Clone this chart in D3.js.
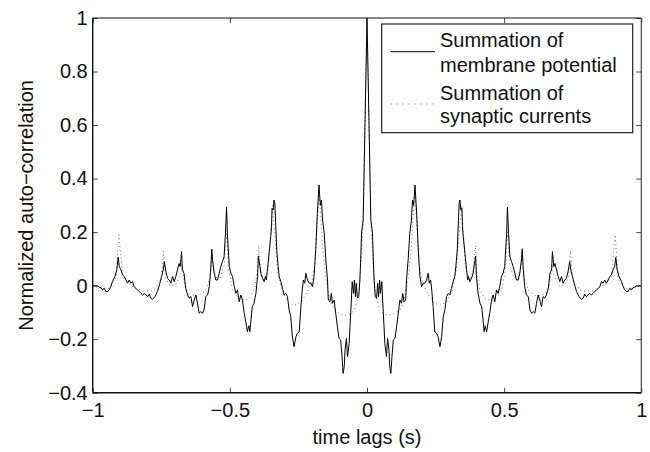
<!DOCTYPE html>
<html><head><meta charset="utf-8">
<script src="https://cdn.jsdelivr.net/npm/d3@7/dist/d3.min.js"></script>
<style>
html,body{margin:0;padding:0;background:#fff;}
svg{display:block;font-family:"Liberation Sans",Arial,Helvetica,sans-serif;}
</style></head>
<body><svg id="chart" width="650" height="452"></svg>
<script>
// ---- data ----
const xTicks = [-1, -0.5, 0, 0.5, 1];
const xTickLabels = ["\u22121", "\u22120.5", "0", "0.5", "1"];
const yTicks = [-0.4, -0.2, 0, 0.2, 0.4, 0.6, 0.8, 1];
const yTickLabels = ["\u22120.4", "\u22120.2", "0", "0.2", "0.4", "0.6", "0.8", "1"];
const seriesNames = ["Summation of\nmembrane potential", "Summation of\nsynaptic currents"];
const xLabel = "time lags (s)";
const yLabel = "Normalized auto\u2212correlation";

const membraneLag = [
-1.000,-0.982,-0.976,-0.970,-0.964,-0.958,-0.952,-0.946,-0.940,-0.934,-0.928,-0.919,-0.912,-0.907,-0.903,-0.897,-0.891,-0.885,-0.879,-0.873,
-0.867,-0.861,-0.855,-0.849,-0.837,-0.830,-0.824,-0.818,-0.812,-0.806,-0.800,-0.794,-0.788,-0.782,-0.773,-0.764,-0.755,-0.749,-0.743,-0.739,
-0.733,-0.727,-0.721,-0.715,-0.709,-0.703,-0.697,-0.691,-0.685,-0.681,-0.676,-0.673,-0.667,-0.661,-0.654,-0.648,-0.642,-0.636,-0.630,-0.624,
-0.618,-0.612,-0.606,-0.600,-0.594,-0.588,-0.581,-0.575,-0.569,-0.566,-0.563,-0.557,-0.551,-0.545,-0.539,-0.533,-0.527,-0.521,-0.516,-0.512,
-0.509,-0.502,-0.496,-0.490,-0.484,-0.478,-0.472,-0.466,-0.460,-0.454,-0.448,-0.442,-0.436,-0.431,-0.427,-0.423,-0.418,-0.412,-0.405,-0.399,
-0.396,-0.391,-0.387,-0.381,-0.375,-0.370,-0.367,-0.363,-0.357,-0.351,-0.348,-0.346,-0.342,-0.339,-0.336,-0.332,-0.329,-0.324,-0.320,-0.314,
-0.308,-0.302,-0.296,-0.290,-0.284,-0.278,-0.272,-0.266,-0.259,-0.254,-0.247,-0.241,-0.236,-0.232,-0.227,-0.223,-0.217,-0.211,-0.205,-0.199,
-0.193,-0.187,-0.181,-0.175,-0.170,-0.166,-0.162,-0.156,-0.150,-0.144,-0.141,-0.135,-0.130,-0.126,-0.120,-0.114,-0.108,-0.102,-0.096,-0.091,
-0.087,-0.083,-0.080,-0.075,-0.071,-0.065,-0.062,-0.057,-0.054,-0.049,-0.046,-0.042,-0.039,-0.035,-0.030,-0.026,-0.023,-0.020,-0.014,0.000,
0.014,0.020,0.023,0.026,0.030,0.035,0.039,0.042,0.046,0.049,0.054,0.057,0.062,0.065,0.071,0.075,0.080,0.083,0.087,0.091,
0.096,0.102,0.108,0.114,0.120,0.126,0.130,0.135,0.141,0.144,0.150,0.156,0.162,0.166,0.170,0.175,0.181,0.187,0.193,0.199,
0.205,0.211,0.217,0.223,0.227,0.232,0.236,0.241,0.247,0.254,0.259,0.266,0.272,0.278,0.284,0.290,0.296,0.302,0.308,0.314,
0.320,0.324,0.329,0.332,0.336,0.339,0.342,0.346,0.348,0.351,0.357,0.363,0.367,0.370,0.375,0.381,0.387,0.391,0.396,0.399,
0.405,0.412,0.418,0.423,0.427,0.431,0.436,0.442,0.448,0.454,0.460,0.466,0.472,0.478,0.484,0.490,0.496,0.502,0.509,0.512,
0.516,0.521,0.527,0.533,0.539,0.545,0.551,0.557,0.563,0.566,0.569,0.575,0.581,0.588,0.594,0.600,0.606,0.612,0.618,0.624,
0.630,0.636,0.642,0.648,0.654,0.661,0.667,0.673,0.676,0.681,0.685,0.691,0.697,0.703,0.709,0.715,0.721,0.727,0.733,0.739,
0.743,0.749,0.755,0.764,0.773,0.782,0.788,0.794,0.800,0.806,0.812,0.818,0.824,0.830,0.837,0.849,0.855,0.861,0.867,0.873,
0.879,0.885,0.891,0.897,0.903,0.907,0.912,0.919,0.928,0.934,0.940,0.946,0.952,0.958,0.964,0.970,0.976,0.982,1.000];

const membraneVal = [
0.000,-0.001,-0.006,-0.007,-0.016,-0.010,-0.022,-0.022,-0.016,-0.004,0.015,0.034,0.059,0.106,0.071,0.059,0.040,0.034,0.021,0.009,
0.021,0.009,0.015,-0.004,-0.016,-0.022,-0.029,-0.035,-0.029,-0.035,-0.041,-0.032,-0.047,-0.051,-0.041,-0.022,0.009,0.034,0.059,0.090,
0.052,0.027,0.021,0.009,0.034,0.015,0.034,0.059,0.083,0.071,0.127,0.059,0.046,-0.010,-0.035,-0.047,-0.041,-0.078,-0.054,-0.035,
-0.066,-0.103,-0.097,-0.103,-0.091,-0.041,-0.035,-0.004,0.071,0.136,0.096,0.046,0.021,0.021,0.046,0.071,0.090,0.108,0.196,0.293,
0.196,0.071,0.046,0.034,-0.004,-0.029,-0.016,-0.060,-0.035,-0.054,-0.100,-0.135,-0.172,-0.150,-0.172,-0.128,-0.078,-0.066,-0.029,0.034,
0.110,0.077,0.046,0.028,0.015,0.034,0.021,0.059,0.121,0.183,0.220,0.289,0.283,0.320,0.308,0.208,0.133,0.071,0.034,0.015,
-0.010,-0.035,-0.029,-0.041,-0.091,-0.116,-0.191,-0.228,-0.191,-0.178,-0.172,-0.078,-0.016,0.021,0.009,0.046,0.021,0.009,0.010,-0.004,
0.034,0.133,0.271,0.376,0.300,0.320,0.245,0.196,0.096,0.021,-0.054,-0.060,-0.029,-0.066,-0.054,-0.103,-0.153,-0.197,-0.203,-0.265,
-0.328,-0.303,-0.240,-0.197,-0.265,-0.216,-0.153,-0.054,0.015,-0.029,0.021,-0.041,0.009,-0.047,-0.041,0.021,0.096,0.196,0.245,1.000,
0.245,0.196,0.096,0.021,-0.041,-0.047,0.009,-0.041,0.021,-0.029,0.015,-0.054,-0.153,-0.216,-0.265,-0.197,-0.240,-0.303,-0.328,-0.265,
-0.203,-0.197,-0.153,-0.103,-0.054,-0.066,-0.029,-0.060,-0.054,0.021,0.096,0.196,0.245,0.320,0.300,0.376,0.271,0.133,0.034,-0.004,
0.010,0.009,0.021,0.046,0.009,0.021,-0.016,-0.078,-0.172,-0.178,-0.191,-0.228,-0.191,-0.116,-0.091,-0.041,-0.029,-0.035,-0.010,0.015,
0.034,0.071,0.133,0.208,0.308,0.320,0.283,0.289,0.220,0.183,0.121,0.059,0.021,0.034,0.015,0.028,0.046,0.077,0.110,0.034,
-0.029,-0.066,-0.078,-0.128,-0.172,-0.150,-0.172,-0.135,-0.100,-0.054,-0.035,-0.060,-0.016,-0.029,-0.004,0.034,0.046,0.071,0.196,0.293,
0.196,0.108,0.090,0.071,0.046,0.021,0.021,0.046,0.096,0.136,0.071,-0.004,-0.035,-0.041,-0.091,-0.103,-0.097,-0.103,-0.066,-0.035,
-0.054,-0.078,-0.041,-0.047,-0.035,-0.010,0.046,0.059,0.127,0.071,0.083,0.059,0.034,0.015,0.034,0.009,0.021,0.027,0.052,0.090,
0.059,0.034,0.009,-0.022,-0.041,-0.051,-0.047,-0.032,-0.041,-0.035,-0.029,-0.035,-0.029,-0.022,-0.016,-0.004,0.015,0.009,0.021,0.009,
0.021,0.034,0.040,0.059,0.071,0.106,0.059,0.034,0.015,-0.004,-0.016,-0.022,-0.022,-0.010,-0.016,-0.007,-0.006,-0.001,0.000];

const synapticLag = [
-1.000,-0.970,-0.940,-0.915,-0.905,-0.890,-0.860,-0.820,-0.780,-0.750,-0.742,-0.735,-0.720,-0.700,-0.680,-0.674,-0.665,-0.650,-0.620,-0.590,
-0.572,-0.566,-0.560,-0.550,-0.535,-0.520,-0.512,-0.505,-0.490,-0.460,-0.430,-0.410,-0.400,-0.395,-0.388,-0.375,-0.360,-0.352,-0.345,-0.335,
-0.325,-0.310,-0.290,-0.265,-0.240,-0.215,-0.200,-0.190,-0.182,-0.175,-0.168,-0.160,-0.150,-0.135,-0.120,-0.100,-0.080,-0.060,-0.045,-0.035,
-0.028,-0.022,-0.018,-0.014,0.000,
0.014,0.018,0.022,0.028,0.035,0.045,0.060,0.080,0.100,0.120,0.135,0.150,0.160,0.168,0.175,0.182,0.190,0.200,0.215,0.240,
0.265,0.290,0.310,0.325,0.335,0.345,0.352,0.360,0.375,0.388,0.395,0.400,0.410,0.430,0.460,0.490,0.505,0.512,0.520,0.535,
0.550,0.560,0.566,0.572,0.590,0.620,0.650,0.665,0.674,0.680,0.700,0.720,0.735,0.742,0.750,0.780,0.820,0.860,0.890,0.905,
0.915,0.940,0.970,1.000];

const synapticVal = [
0.000,-0.010,-0.010,0.030,0.190,0.030,0.000,-0.020,-0.020,0.020,0.130,0.030,0.000,0.000,0.040,0.080,0.000,-0.030,-0.040,-0.020,
0.030,0.140,0.060,0.030,0.030,0.080,0.200,0.060,-0.020,-0.055,-0.050,-0.010,0.050,0.150,0.060,0.020,0.060,0.180,0.300,0.180,
0.050,-0.020,-0.060,-0.075,-0.060,-0.020,0.020,0.080,0.220,0.350,0.250,0.120,0.020,-0.050,-0.090,-0.105,-0.110,-0.105,-0.090,-0.050,
0.000,0.080,0.150,0.240,1.000,
0.240,0.150,0.080,0.000,-0.050,-0.090,-0.105,-0.110,-0.105,-0.090,-0.050,0.020,0.120,0.250,0.350,0.220,0.080,0.020,-0.020,-0.060,
-0.075,-0.060,-0.020,0.050,0.180,0.300,0.180,0.060,0.020,0.060,0.150,0.050,-0.010,-0.050,-0.055,-0.020,0.060,0.200,0.080,0.030,
0.030,0.060,0.140,0.030,-0.020,-0.040,-0.030,0.000,0.080,0.040,0.000,0.000,0.030,0.130,0.020,-0.020,-0.020,0.000,0.030,0.190,
0.030,-0.010,-0.010,0.000];

// ---- layout ----
const plotL = 92.7, plotR = 641.3, plotT = 18, plotB = 392.7;
const svg = d3.select("#chart");
const x = d3.scaleLinear().domain([-1, 1]).range([plotL, plotR]);
const y = d3.scaleLinear().domain([-0.4, 1]).range([plotB, plotT]);
const FS = 20;

svg.append("defs").append("clipPath").attr("id","clip")
  .append("rect").attr("x", plotL).attr("y", plotT).attr("width", plotR-plotL).attr("height", plotB-plotT);

const line = d3.line().x(d => x(d[0])).y(d => y(d[1]));
const synData = synapticLag.map((l,i) => [l, synapticVal[i]]);
const memData = membraneLag.map((l,i) => [l, membraneVal[i]]);

const g = svg.append("g").attr("clip-path","url(#clip)");
g.append("path").datum(synData).attr("d", line)
  .attr("fill","none").attr("stroke","#777").attr("stroke-width",1)
  .attr("stroke-dasharray","1,3");
g.append("path").datum(memData).attr("d", line)
  .attr("fill","none").attr("stroke","#000").attr("stroke-width",1);

// axes (ticks inward, all 4 sides)
const fmtX = d => xTickLabels[xTicks.indexOf(d)];
const fmtY = d => yTickLabels[yTicks.indexOf(d)];
function styleAxis(sel){
  sel.select(".domain").remove();
  sel.selectAll(".tick line").attr("stroke","#444").attr("stroke-width",1);
  sel.selectAll("text").attr("fill","#111").style("font-size", FS+"px")
     .style("font-family",'"Liberation Sans",Arial,Helvetica,sans-serif');
}
svg.append("g").attr("transform",`translate(0,${plotB})`)
  .call(d3.axisBottom(x).tickValues(xTicks).tickFormat(fmtX).tickSizeInner(-5).tickSizeOuter(0).tickPadding(10))
  .call(styleAxis);
svg.append("g").attr("transform",`translate(0,${plotT})`)
  .call(d3.axisTop(x).tickValues(xTicks).tickFormat("").tickSizeInner(-5).tickSizeOuter(0))
  .call(styleAxis);
svg.append("g").attr("transform",`translate(${plotL},0)`)
  .call(d3.axisLeft(y).tickValues(yTicks).tickFormat(fmtY).tickSizeInner(-5).tickSizeOuter(0).tickPadding(5))
  .call(styleAxis);
svg.append("g").attr("transform",`translate(${plotR},0)`)
  .call(d3.axisRight(y).tickValues(yTicks).tickFormat("").tickSizeInner(-5).tickSizeOuter(0))
  .call(styleAxis);

// frame
svg.append("line").attr("x1",plotL).attr("x2",plotR).attr("y1",plotT).attr("y2",plotT).attr("stroke","#111").attr("stroke-width",1.2);
svg.append("line").attr("x1",plotL).attr("x2",plotR).attr("y1",plotB).attr("y2",plotB).attr("stroke","#111").attr("stroke-width",1.6);
svg.append("line").attr("x1",plotL).attr("x2",plotL).attr("y1",plotT).attr("y2",plotB).attr("stroke","#111").attr("stroke-width",1.4);
svg.append("line").attr("x1",plotR).attr("x2",plotR).attr("y1",plotT).attr("y2",plotB).attr("stroke","#444").attr("stroke-width",1.2);

// axis labels
svg.append("text").attr("x", (plotL+plotR)/2).attr("y", 444).attr("text-anchor","middle")
  .style("font-size", FS+"px").attr("fill","#111").text(xLabel);
svg.append("text").attr("transform",`translate(33,${(plotT+plotB)/2}) rotate(-90)`).attr("text-anchor","middle")
  .style("font-size", FS+"px").attr("fill","#111").text(yLabel);

// legend
const lg = svg.append("g");
lg.append("rect").attr("x",381.7).attr("y",24).attr("width",251).attr("height",108.7)
  .attr("fill","#fff").attr("stroke","#222").attr("stroke-width",1.2);
const legendRows = [
  {name: seriesNames[0], stroke:"#000", dash:null, ly:51.7, ty:[47, 72]},
  {name: seriesNames[1], stroke:"#777", dash:"1,5", ly:104, ty:[99.5, 123]}
];
legendRows.forEach(r => {
  lg.append("line").attr("x1",390.7).attr("x2",435).attr("y1",r.ly).attr("y2",r.ly)
    .attr("stroke",r.stroke).attr("stroke-width",1).attr("stroke-dasharray",r.dash);
  r.name.split("\n").forEach((t,i) => {
    lg.append("text").attr("x",440).attr("y",r.ty[i]).style("font-size",FS+"px").attr("fill","#111").text(t);
  });
});
</script></body></html>
